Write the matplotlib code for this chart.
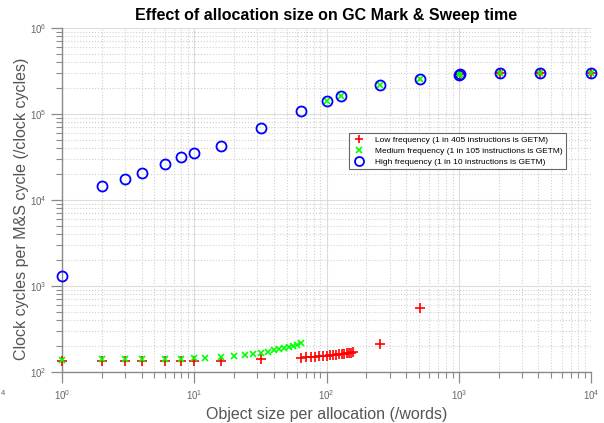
import matplotlib
matplotlib.use("Agg")
import matplotlib.pyplot as plt
from matplotlib.ticker import LogLocator, NullFormatter

plt.rcParams['font.family'] = ['Liberation Sans', 'DejaVu Sans']
plt.rcParams['mathtext.default'] = 'regular'

# ---- data ----
low_x = [1, 2, 3, 4, 6, 8, 10, 16, 32,
         64, 70, 76, 82, 88, 94, 100, 106, 112, 118, 124, 130, 136, 142, 148, 154, 160,
         256, 512, 1024, 2048, 4096, 10000]
low_y = [134, 133, 133, 134, 134, 134, 134, 133, 140,
         147, 148, 150, 151, 152, 154, 155, 156, 158, 159, 160, 162, 163, 165, 166, 168, 170,
         212, 560, 2.88e5, 3.0e5, 3.0e5, 3.0e5]

med_x = [1, 2, 3, 4, 6, 8, 10, 12, 16, 20, 24, 28, 32, 36, 40, 44, 48, 52, 56, 60, 64,
         100, 128, 256, 512, 1000, 1024, 2048, 4096, 10000]
med_y = [138, 140, 140, 141, 142, 143, 147, 147, 150, 155, 158, 162, 168, 173, 178, 183,
         189, 195, 200, 206, 216,
         1.43e5, 1.63e5, 2.17e5, 2.57e5, 2.84e5, 2.88e5, 3.0e5, 3.0e5, 3.0e5]

high_x = [1, 2, 3, 4, 6, 8, 10, 16, 32, 64, 100, 128, 256, 512, 1000, 1024, 2048, 4096, 10000]
high_y = [1290, 14500, 17700, 20600, 26200, 31600, 34900, 42400, 69500, 1.09e5, 1.43e5,
          1.63e5, 2.17e5, 2.57e5, 2.84e5, 2.88e5, 3.0e5, 3.0e5, 3.0e5]

labels = ["Low frequency (1 in 405 instructions is GETM)",
          "Medium frequency (1 in 105 instructions is GETM)",
          "High frequency (1 in 10 instructions is GETM)"]

title = "Effect of allocation size on GC Mark & Sweep time"
xlabel = "Object size per allocation (/words)"
ylabel = "Clock cycles per M&S cycle (/clock cycles)"

# ---- figure ----
W, H = 604, 423
fig = plt.figure(figsize=(W / 100, H / 100), dpi=100)
ax = fig.add_axes([62 / W, 1 - 372 / H, (591 - 62) / W, (372 - 28) / H])

ax.plot(low_x, low_y, linestyle='none', marker='+', color='#ff0000', ms=7, mew=1.2,
        label=labels[0], clip_on=False, zorder=3)
ax.plot(med_x, med_y, linestyle='none', marker='x', color='#00ff00', ms=5, mew=1.2,
        label=labels[1], clip_on=False, zorder=3)
ax.plot(high_x, high_y, linestyle='none', marker='o', mfc='none', mec='#0000ff', ms=7.2,
        mew=1.3, label=labels[2], clip_on=False, zorder=3)

ax.set_xscale('log')
ax.set_yscale('log')
ax.set_xlim(1, 1e4)
ax.set_ylim(1e2, 1e6)

ax.xaxis.set_major_locator(LogLocator(base=10, numticks=10))
ax.yaxis.set_major_locator(LogLocator(base=10, numticks=10))
ax.xaxis.set_minor_locator(LogLocator(base=10, subs=range(2, 10), numticks=20))
ax.yaxis.set_minor_locator(LogLocator(base=10, subs=range(2, 10), numticks=20))
ax.xaxis.set_minor_formatter(NullFormatter())
ax.yaxis.set_minor_formatter(NullFormatter())

ax.grid(True, which='major', linestyle='-', color='#dcdcdc', linewidth=0.8)
ax.grid(True, which='minor', linestyle=':', color='#d0d0d0', linewidth=0.8)
ax.set_axisbelow(True)

for s in ['top', 'right']:
    ax.spines[s].set_visible(False)
for s in ['left', 'bottom']:
    ax.spines[s].set_color('#8a8a8a')
    ax.spines[s].set_linewidth(1.0)

ax.tick_params(which='major', direction='out', length=8, width=0.9, colors='#8a8a8a',
               labelcolor='#666666', labelsize=7)
ax.tick_params(which='minor', direction='out', length=4, width=0.8, colors='#8a8a8a')
ax.tick_params(axis='x', which='major', pad=4)
ax.tick_params(axis='y', which='major', pad=3)

ax.set_title(title, fontsize=11.5, fontweight='bold', color='black', pad=6)
ax.set_xlabel(xlabel, fontsize=11.5, color='#555555', labelpad=3)
ax.set_ylabel(ylabel, fontsize=11.5, color='#555555')
ax.yaxis.set_label_coords(-(62 - 29) / 529, 0.475)

leg = ax.legend(loc='upper left', bbox_to_anchor=((349 - 62) / 529, (372 - 133) / 344),
                borderaxespad=0, fontsize=6, frameon=True, fancybox=False,
                handlelength=1.5, handletextpad=1.2, borderpad=0.4, labelspacing=0.35,
                markerscale=0.9)
leg.get_frame().set_edgecolor('#404040')
leg.get_frame().set_linewidth(0.8)

# fragment of a neighbouring panel's tick label at the left edge
fig.text(0.5 / W, 1 - 393 / H, '4', fontsize=5.5, color='#666666', ha='left', va='center')

fig.savefig('out.png', dpi=100)
